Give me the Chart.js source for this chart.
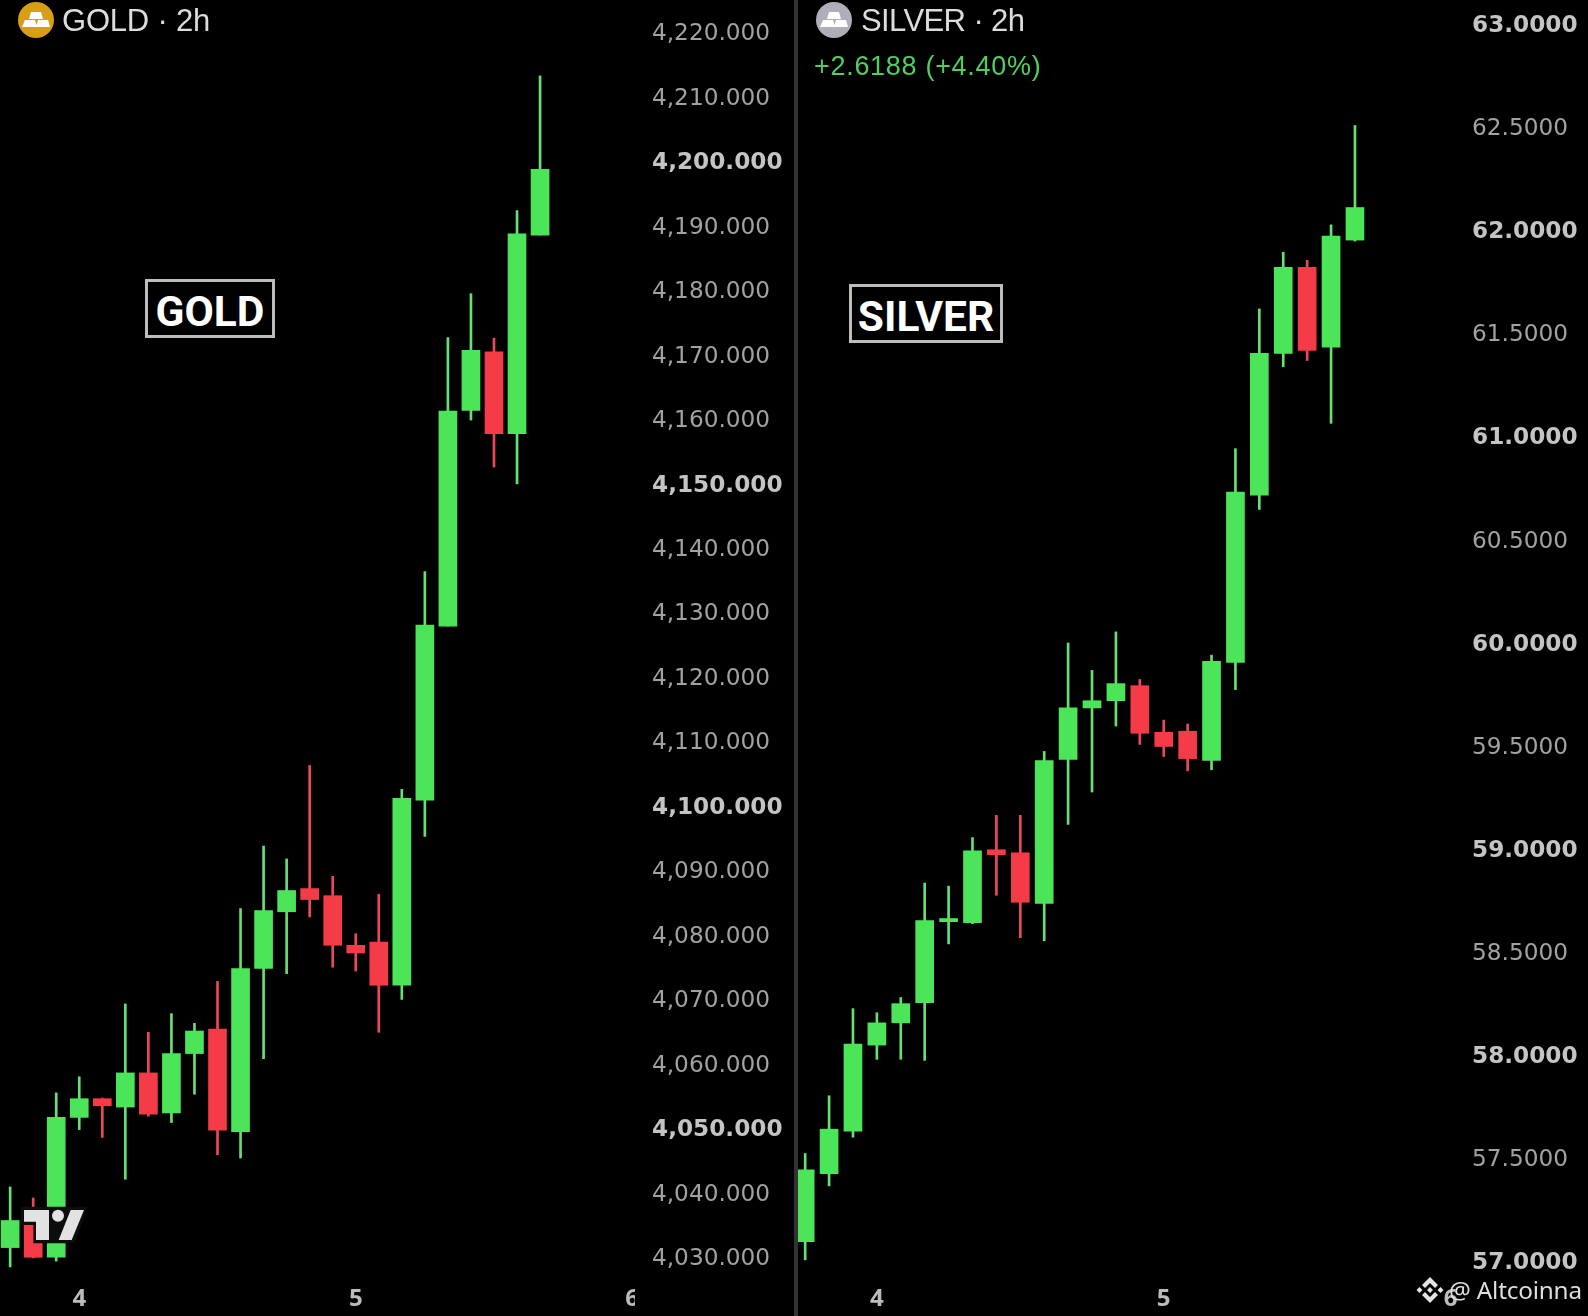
<!DOCTYPE html>
<html>
<head>
<meta charset="utf-8">
<title>Gold and Silver 2h</title>
<script src="https://cdn.jsdelivr.net/npm/chart.js@4/dist/chart.umd.min.js"></script>
<style>
html,body{margin:0;padding:0;background:#000;width:1588px;height:1316px;overflow:hidden}
canvas{position:absolute;top:0}
.t{position:absolute;white-space:nowrap;line-height:1}
.title{font:31px "Liberation Sans",sans-serif;color:#dcdcdc}
.box{position:absolute;box-sizing:border-box;border:3px solid #bdbdbd;background:#000;color:#fff;padding-top:6px;
 font:bold 42.5px Roboto,sans-serif;display:flex;align-items:center;justify-content:center}
svg{position:absolute;overflow:visible}
</style>
</head>
<body>
<canvas id="gold"></canvas>
<canvas id="silver"></canvas>
<div style="position:absolute;left:794px;top:0;width:4px;height:1316px;background:#333"></div>

<svg style="left:0;top:0" width="60" height="40">
 <circle cx="36" cy="20" r="18" fill="#d89f12"/>
 <path d="M31 12h10l2 7H29zM25 20h10l2 7H22zM38 20h10l2 7H36z" fill="#fff"/>
</svg>
<div class="t title" style="left:62px;top:3px;letter-spacing:-0.2px">GOLD · 2h</div>

<svg style="left:790px;top:0" width="60" height="40">
 <circle cx="44" cy="20" r="18" fill="#b0aeb9"/>
 <path d="M39 12h10l2 7H37zM33 20h10l2 7H30zM46 20h10l2 7H44z" fill="#fff"/>
</svg>
<div class="t title" style="left:861px;top:3px;letter-spacing:-0.6px">SILVER · 2h</div>
<div class="t" style="left:814px;top:51px;font:27px 'Liberation Sans',sans-serif;letter-spacing:0.7px;color:#50cf60">+2.6188 (+4.40%)</div>

<div class="box" style="left:145px;top:279px;width:130px;height:59px">GOLD</div>
<div class="box" style="left:849px;top:284px;width:154px;height:59px">SILVER</div>

<svg style="left:0;top:1100px" width="100" height="160" viewBox="0 0 300 480">
 <path d="M62 320H262L225 430H100V375H62z" fill="#0d0d0d"/>
 <path d="M72 330H147V420H108V365H72z" fill="#e2e2e2"/>
 <circle cx="174" cy="347" r="18" fill="#e2e2e2"/>
 <path d="M212 330H252L215 420H176z" fill="#e2e2e2"/>
</svg>

<svg style="left:1416px;top:1276px" width="28" height="28" viewBox="0 0 28 28" fill="none">
 <path d="M14 1l8 8-3 3-5-5-5 5-3-3zM14 27l8-8-3-3-5 5-5-5-3 3z" fill="#e4e4e4"/>
 <path d="M3.500 11l3 3-3 3-3-3zM24.500 11l3 3-3 3-3-3zM14 11l3 3-3 3-3-3z" fill="#e4e4e4"/>
</svg>
<div class="t" style="left:1449px;top:1273px;font:24.300px 'Noto Sans',sans-serif;letter-spacing:-0.2px;color:#dedede">@ Altcoinna</div>

<script>
const dayTickIndex = [3, 15, 27];
const dayTickLabels = ['4', '5', '6'];

const goldOpen  = [4031.3,4035.5,4029.8,4051.5,4054.4,4053.1,4058.4,4052.2,4061.4,4065.2,4049.3,4074.6,4083.4,4087.0,4085.9,4078.2,4078.7,4072.0,4100.7,4127.7,4161.2,4170.3,4157.6,4188.4];
const goldHigh  = [4040.7,4039.0,4055.3,4057.8,4054.5,4069.1,4064.7,4067.6,4066.1,4072.6,4083.9,4093.6,4091.6,4106.1,4088.9,4080.0,4086.1,4102.4,4136.2,4172.5,4179.3,4172.4,4192.2,4213.1];
const goldLow   = [4028.3,4029.7,4029.2,4049.6,4048.4,4041.9,4051.7,4050.7,4055.1,4045.7,4045.2,4060.6,4073.8,4082.6,4074.8,4074.2,4064.7,4069.8,4095.1,4127.7,4159.7,4152.4,4149.8,4188.4];
const goldClose = [4035.5,4029.8,4051.5,4054.4,4053.3,4058.4,4052.0,4061.4,4064.9,4049.5,4074.6,4083.6,4086.7,4085.3,4078.2,4077.0,4072.0,4101.0,4127.9,4161.1,4170.5,4157.6,4188.6,4198.6];

const silverOpen  = [57.088,57.418,57.624,58.042,58.150,58.248,58.641,58.636,58.990,58.975,58.730,59.428,59.678,59.713,59.786,59.560,59.565,59.423,59.899,60.710,61.398,61.816,61.428,61.948];
const silverHigh  = [57.516,57.796,58.219,58.199,58.273,58.828,58.813,59.049,59.157,59.157,59.467,59.993,59.860,60.047,59.816,59.619,59.600,59.934,60.936,61.614,61.889,61.850,62.022,62.504];
const silverLow   = [57.000,57.359,57.595,57.973,57.973,57.968,58.533,58.631,58.769,58.563,58.548,59.113,59.270,59.590,59.501,59.442,59.373,59.378,59.767,60.641,61.334,61.364,61.059,61.943];
const silverClose = [57.437,57.634,58.047,58.150,58.243,58.646,58.656,58.985,58.966,58.735,59.423,59.678,59.713,59.796,59.555,59.491,59.432,59.904,60.725,61.398,61.816,61.413,61.968,62.106];

const UP = '#4ce559', DOWN = '#f53a48';
const UP_WICK = '#68df74', DOWN_WICK = '#ea4a57';
const AXIS = '#a2a2a2', AXIS_BOLD = '#c4c4c4';
const PLOT_BOTTOM = 1272, H = 1316, LABEL_NUDGE = 3;

function noPad(s) { s.paddingTop = s.paddingBottom = s.paddingLeft = s.paddingRight = 0; }

function candleChart(id, left, width, plotRight, labelGap, xMin, xMax, yMin, yMax, step, major, fmt, O, Hi, L, C, clipX) {
  const el = document.getElementById(id);
  el.style.left = left + 'px';
  el.style.width = width + 'px';
  el.style.height = H + 'px';
  el.width = width; el.height = H;
  const colors = C.map((c, i) => c >= O[i] ? UP : DOWN);
  const wickColors = C.map((c, i) => c >= O[i] ? UP_WICK : DOWN_WICK);
  const isMajor = c => {
    if (!c.tick) return false;
    const r = Math.abs(c.tick.value % major);
    return r < 1e-6 || Math.abs(r - major) < 1e-6;
  };
  return new Chart(el, {
    type: 'bar',
    data: {
      datasets: [
        { label: 'wick', data: O.map((_, i) => ({ x: i, y: [L[i], Hi[i]] })), backgroundColor: wickColors,
          barThickness: 2, grouped: false, order: 2 },
        { label: 'body', data: O.map((_, i) => ({ x: i, y: [O[i], C[i]] })), backgroundColor: colors,
          barThickness: 18, grouped: false, order: 1, minBarLength: 2 }
      ]
    },
    options: {
      responsive: false, animation: false, devicePixelRatio: 1,
      layout: { padding: 0 },
      plugins: { legend: { display: false }, tooltip: { enabled: false } },
      scales: {
        x: {
          type: 'linear', min: xMin, max: xMax, offset: false,
          grid: { display: false }, border: { display: false },
          afterBuildTicks(s) { s.ticks = dayTickIndex.map(v => ({ value: v })); },
          afterFit(s) { s.height = H - PLOT_BOTTOM; noPad(s); },
          ticks: {
            autoSkip: false, maxRotation: 0, padding: 5, color: '#bcbcbc',
            font: { family: 'Open Sans', weight: 'bold', size: 24 },
            callback: v => dayTickLabels[dayTickIndex.indexOf(v)]
          }
        },
        y: {
          position: 'right', min: yMin, max: yMax,
          grid: { display: false, drawTicks: false }, border: { display: false },
          afterFit(s) { s.width = width - plotRight; noPad(s); },
          ticks: {
            stepSize: step, includeBounds: false, autoSkip: false, crossAlign: 'near', padding: labelGap,
            color: c => isMajor(c) ? AXIS_BOLD : AXIS,
            font: c => ({ family: 'DejaVu Sans', size: 23.2, weight: isMajor(c) ? 'bold' : 'normal' }),
            callback: fmt
          }
        }
      }
    },
    plugins: [{
      id: 'axisLabelTweaks',
      beforeDraw(chart) {
        const y = chart.scales.y;
        if (!y._nudged) {
          const draw = y.drawLabels;
          y.drawLabels = function (area) {
            chart.ctx.save();
            chart.ctx.translate(0, LABEL_NUDGE);
            draw.call(this, area);
            chart.ctx.restore();
          };
          y._nudged = true;
        }
      },
      afterDraw(chart) {
        if (clipX) {
          chart.ctx.fillStyle = '#000';
          chart.ctx.fillRect(clipX, PLOT_BOTTOM, 20, H - PLOT_BOTTOM);
        }
      }
    }]
  });
}

const goldFmt = v => v.toLocaleString('en-US', { minimumFractionDigits: 3, maximumFractionDigits: 3 });
const silverFmt = v => v.toFixed(4);

candleChart('gold', 0, 794, 635, 17, -0.44, 27.12, 4027.51, 4224.87, 10, 50, goldFmt,
  goldOpen, goldHigh, goldLow, goldClose, 635);
candleChart('silver', 798, 790, 665, 9, -0.30, 27.52, 56.941, 63.113, 0.5, 1, silverFmt,
  silverOpen, silverHigh, silverLow, silverClose, 0);
</script>
</body>
</html>
